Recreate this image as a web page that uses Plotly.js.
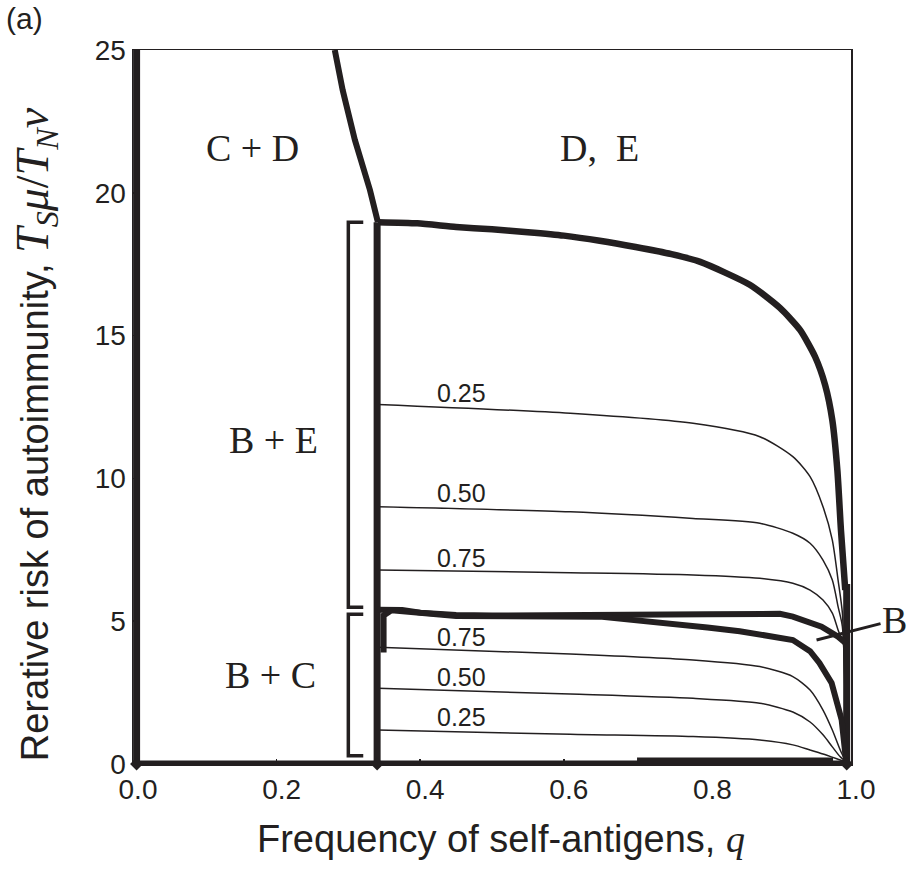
<!DOCTYPE html>
<html><head><meta charset="utf-8">
<script src="https://cdn.plot.ly/plotly-3.0.1.min.js"></script>
<style>html,body{margin:0;padding:0;background:#fff}</style>
</head><body><div id="chart" style="width:912px;height:869px"></div>
<script>
// ---------- data ----------
const xTicks = [0, 0.2, 0.4, 0.6, 0.8, 1.0];
const xTickText = ["0.0", "0.2", "0.4", "0.6", "0.8", "1.0"];
const yTicks = [0, 5, 10, 15, 20, 25];
const yTickText = ["0", "5", "10", "15", "20", "25"];

// thick boundary curves
const diagQ = [0.281, 0.292, 0.309, 0.330, 0.341];
const diagV = [25.0, 23.6, 21.85, 20.1, 18.98];

const topQ = [0.341, 0.396, 0.45, 0.5, 0.55, 0.6, 0.65, 0.7, 0.75, 0.790, 0.859, 0.901, 0.929, 0.950, 0.964, 0.974, 0.981, 0.986, 0.992];
const topV = [18.97, 18.93, 18.8, 18.72, 18.62, 18.5, 18.32, 18.1, 17.85, 17.58, 16.78, 15.97, 15.20, 14.26, 13.27, 12.04, 10.29, 8.19, 6.09];

const rightQ = [0.994, 0.994];
const rightV = [0, 6.3];

const vertQ = [0.34, 0.34];
const vertV = [0, 18.97];

const leftQ = [0.005, 0.005];
const leftV = [0, 25];

const bottomQ = [0, 0.994];
const bottomV = [0, 0];
const bottom2Q = [0.702, 0.975];
const bottom2V = [0.12, 0.12];

const cornerQ = [0.005, 0.34, 0.994];
const cornerV = [0, 0, 0];

const upperBQ = [0.34, 0.375, 0.40, 0.45, 0.5, 0.6, 0.7, 0.8, 0.901, 0.919, 0.959, 0.982, 0.994];
const upperBV = [5.40, 5.39, 5.30, 5.22, 5.2, 5.2, 5.22, 5.24, 5.26, 5.16, 4.81, 4.46, 4.2];

const lowerBQ = [0.349, 0.349, 0.36, 0.40, 0.45, 0.65, 0.70, 0.75, 0.80, 0.845, 0.873, 0.90, 0.919, 0.943, 0.956, 0.973, 0.981, 0.987, 0.993];
const lowerBV = [3.9, 5.2, 5.38, 5.30, 5.18, 5.16, 5.04, 4.95, 4.78, 4.65, 4.55, 4.45, 4.34, 3.95, 3.54, 2.84, 2.0, 1.54, 0.14];

// thin curves (labelled 0.25 / 0.50 / 0.75)
const q25u = [0.341, 0.609, 0.780, 0.873, 0.919, 0.943, 0.961, 0.974, 0.982, 0.988, 0.991, 0.994];
const v25u = [12.59, 12.28, 11.93, 11.46, 10.76, 10.06, 9.01, 7.84, 6.44, 5.29, 3.0, 0.3];
const q50u = [0.341, 0.609, 0.780, 0.873, 0.919, 0.943, 0.961, 0.974, 0.982, 0.988, 0.994];
const v50u = [9.01, 8.83, 8.60, 8.43, 8.08, 7.73, 7.14, 6.44, 5.51, 4.81, 0.3];
const q75u = [0.341, 0.609, 0.780, 0.873, 0.919, 0.943, 0.961, 0.974, 0.982, 0.992, 0.994];
const v75u = [6.79, 6.70, 6.62, 6.50, 6.33, 6.09, 5.74, 5.28, 4.69, 3.99, 0.3];
const q75l = [0.341, 0.609, 0.780, 0.873, 0.919, 0.943, 0.961, 0.974, 0.985, 0.993];
const v75l = [4.09, 3.85, 3.64, 3.41, 3.06, 2.59, 1.89, 1.19, 0.49, 0.07];
const q50l = [0.341, 0.609, 0.780, 0.873, 0.919, 0.943, 0.961, 0.974, 0.985, 0.993];
const v50l = [2.65, 2.45, 2.30, 2.13, 1.82, 1.47, 1.02, 0.60, 0.25, 0.07];
const q25l = [0.341, 0.609, 0.780, 0.873, 0.919, 0.943, 0.961, 0.985, 0.993];
const v25l = [1.19, 1.04, 0.96, 0.84, 0.67, 0.49, 0.35, 0.14, 0.07];

const curveLabels = ["0.25", "0.50", "0.75", "0.75", "0.50", "0.25"];
const curveLabelV = [13.0, 9.48, 7.2, 4.46, 3.06, 1.66];

const regionLabels = ["C + D", "D,\u00A0\u00A0E", "B + E", "B + C"];
const regionQ = [0.166, 0.650, 0.195, 0.192];
const regionV = [21.57, 21.57, 11.34, 3.1];

// brackets
const br1Q = [0.3207, 0.2999, 0.2999, 0.3207];
const br1V = [18.97, 18.97, 5.49, 5.49];
const br2Q = [0.3207, 0.2999, 0.2999, 0.3207];
const br2V = [5.24, 5.24, 0.29, 0.29];

// ---------- traces ----------
const K = '#231f20';
function thick(x, y, w, shape) {
  return {x: x, y: y, mode: 'lines', type: 'scatter', hoverinfo: 'skip',
          line: {color: K, width: w || 6, shape: shape || 'linear', smoothing: 0.6}};
}
function thin(x, y) {
  return {x: x, y: y, mode: 'lines', type: 'scatter', hoverinfo: 'skip',
          line: {color: K, width: 1.5, shape: 'spline', smoothing: 0.7}};
}
const traces = [
  thin(q25u, v25u), thin(q50u, v50u), thin(q75u, v75u),
  thin(q75l, v75l), thin(q50l, v50l), thin(q25l, v25l),
  thick(diagQ, diagV, 6),
  thick(topQ, topV, 6.5, 'spline'),
  thick(rightQ, rightV, 7),
  thick(vertQ, vertV, 7),
  thick(leftQ, leftV, 7),
  thick(bottomQ, bottomV, 7),
  thick(bottom2Q, bottom2V, 6),
  thick(upperBQ, upperBV, 6),
  thick(lowerBQ, lowerBV, 6),
  thick(br1Q, br1V, 3.5),
  thick(br2Q, br2V, 3.5),
  {x: cornerQ, y: cornerV, mode: 'markers', type: 'scatter', hoverinfo: 'skip', cliponaxis: false,
   marker: {symbol: 'diamond', size: 10, color: K}}
];

const annotations = [];
curveLabels.forEach((t, i) => annotations.push({
  x: 0.458, y: curveLabelV[i], text: t, showarrow: false,
  font: {family: 'Liberation Sans, Arial, sans-serif', size: 25, color: K}
}));
regionLabels.forEach((t, i) => annotations.push({
  x: regionQ[i], y: regionV[i], text: t, showarrow: false,
  font: {family: 'Liberation Serif, Times New Roman, serif', size: 38, color: K}
}));
annotations.push({
  x: 0.952, y: 4.34, ax: 78, ay: -20, text: 'B', showarrow: true,
  arrowhead: 0, arrowwidth: 3, arrowcolor: K, standoff: 0,
  font: {family: 'Liberation Serif, Times New Roman, serif', size: 38, color: K}
});
annotations.push({
  xref: 'paper', yref: 'paper', x: -0.18, y: 1.044, xanchor: 'left', yanchor: 'middle',
  text: '(a)', showarrow: false,
  font: {family: 'Liberation Sans, Arial, sans-serif', size: 30, color: K}
});
const serif = "font-family:'Liberation Serif',serif";
// axis titles as annotations for exact placement
annotations.push({
  xref: 'paper', yref: 'paper', x: -0.135, y: 0.462, xanchor: 'center', yanchor: 'middle',
  textangle: -90, showarrow: false,
  text: "Rerative risk of autoimmunity, <span style=\"" + serif + ";font-size:46px\"><i>T<sub>S</sub>μ</i>/<i>T<sub>N</sub>ν</i></span>",
  font: {family: 'Liberation Sans, Arial, sans-serif', size: 38, color: K}
});
annotations.push({
  xref: 'paper', yref: 'paper', x: 0.513, y: -0.105, xanchor: 'center', yanchor: 'middle',
  showarrow: false,
  text: "Frequency of self-antigens, <i><span style=\"" + serif + "\">q</span></i>",
  font: {family: 'Liberation Sans, Arial, sans-serif', size: 38, color: K}
});

const layout = {
  width: 912, height: 869,
  margin: {l: 133, r: 61, t: 50, b: 105},
  paper_bgcolor: '#fff', plot_bgcolor: '#fff',
  showlegend: false,
  font: {family: 'Liberation Sans, Arial, sans-serif', color: K},
  xaxis: {
    range: [0, 1], tickvals: xTicks, ticktext: xTickText,
    ticks: 'inside', ticklen: 5, tickwidth: 1.5, tickcolor: K,
    showline: true, linecolor: K, linewidth: 1.5, mirror: true,
    showgrid: false, zeroline: false, ticklabelshift: 5,
    tickfont: {size: 28, color: K}
  },
  yaxis: {
    range: [0, 25], tickvals: yTicks, ticktext: yTickText,
    ticks: 'inside', ticklen: 5, tickwidth: 1.5, tickcolor: K,
    showline: true, linecolor: K, linewidth: 1.5, mirror: true,
    showgrid: false, zeroline: false,
    tickfont: {size: 28, color: K}
  },
  annotations: annotations
};

Plotly.newPlot('chart', traces, layout, {staticPlot: true, displayModeBar: false});
</script></body></html>
